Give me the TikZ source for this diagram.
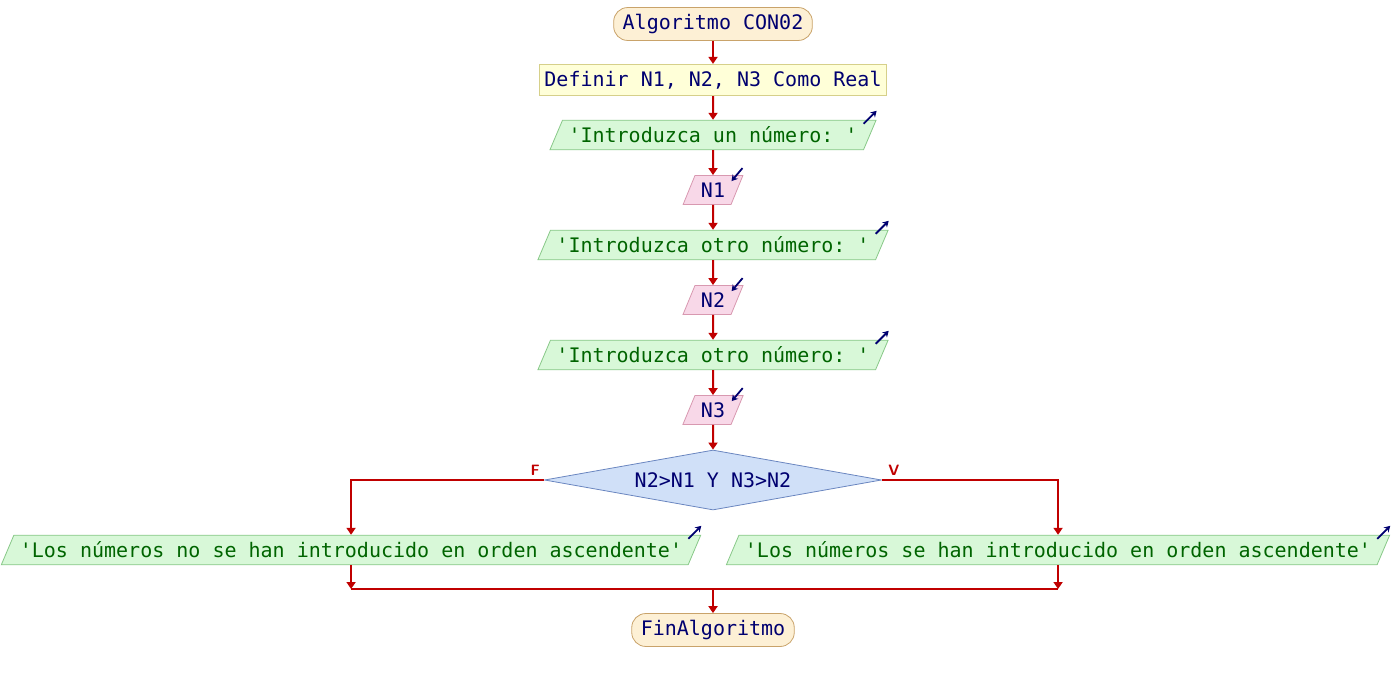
\documentclass[tikz,border=0pt]{standalone}
\usepackage{fontspec}
\setmonofont{DejaVu Sans Mono}
\usetikzlibrary{shapes.geometric,arrows.meta,positioning}

\definecolor{flowline}{HTML}{C00000}
\definecolor{navytext}{HTML}{000070}
\definecolor{greentext}{HTML}{006400}
\definecolor{startfill}{HTML}{FDF0D5}
\definecolor{startedge}{HTML}{C9A36A}
\definecolor{deffill}{HTML}{FFFFD8}
\definecolor{defedge}{HTML}{D6D08A}
\definecolor{outfill}{HTML}{D8F8D8}
\definecolor{outedge}{HTML}{88C888}
\definecolor{infill}{HTML}{F8D8E8}
\definecolor{inedge}{HTML}{D898B0}
\definecolor{ifffill}{HTML}{D0E0F8}
\definecolor{ifedge}{HTML}{6A86C0}

\begin{document}
\begin{tikzpicture}[x = 0.5pt, y = -0.5pt,
    font = \ttfamily\fontsize{10pt}{12pt}\selectfont,
    terminal/.style = {draw = startedge, fill = startfill, text = navytext, rounded corners = 7pt,
        minimum height = 14.5pt, inner xsep = 4.5pt},
    define/.style = {draw = defedge, fill = deffill, text = navytext, minimum height = 15pt, inner xsep = 2.5pt},
    io/.style = {trapezium, trapezium left angle = 67, trapezium right angle = 113, trapezium stretches body,
        minimum height = 14.5pt, inner xsep = 3pt},
    output/.style = {io, draw = outedge, fill = outfill, text = greentext},
    input/.style = {io, draw = inedge, fill = infill, text = navytext},
    decision/.style = {diamond, draw = ifedge, fill = ifffill, text = navytext, aspect = 5.6, inner sep = 0pt,
        minimum width = 168.5pt, minimum height = 30pt},
    flow/.style = {draw = flowline, line width = 1pt, -{Triangle[width = 4.5pt, length = 3.5pt]}},
    branch/.style = {text = flowline, inner sep = 0pt, font = \sffamily\bfseries\fontsize{7.5pt}{8pt}\selectfont},
    outmark/.style = {draw = navytext, line width = 0.9pt, -{Stealth[width = 3.5pt, length = 3pt]}},
]
    \useasboundingbox (0,0) rectangle (1392,680);

    % nodes
    \node[terminal] (start) at (713,24) {Algoritmo CON02};
    \node[define] (def) at (713,80) {Definir N1, N2, N3 Como Real};
    \node[output] (o1) at (713,135) {'Introduzca un número: '};
    \node[input] (n1) at (713,190) {N1};
    \node[output] (o2) at (713,245) {'Introduzca otro número: '};
    \node[input] (n2) at (713,300) {N2};
    \node[output] (o3) at (713,355) {'Introduzca otro número: '};
    \node[input] (n3) at (713,410) {N3};
    \node[decision] (cond) at (713,480) {N2>N1 Y N3>N2};
    \node[output] (lo) at (351,550) {'Los números no se han introducido en orden ascendente'};
    \node[output] (ro) at (1058,550) {'Los números se han introducido en orden ascendente'};
    \coordinate (join) at (713,589);
    \node[terminal] (end) at (713,630) {FinAlgoritmo};

    % connectors
    \draw[flow] (start) -- (def);
    \draw[flow] (def) -- (o1);
    \draw[flow] (o1) -- (n1);
    \draw[flow] (n1) -- (o2);
    \draw[flow] (o2) -- (n2);
    \draw[flow] (n2) -- (o3);
    \draw[flow] (o3) -- (n3);
    \draw[flow] (n3) -- (cond);
    \draw[flow] (cond.west) -| (lo.north);
    \draw[flow] (cond.east) -| (ro.north);
    \draw[flow] (lo.south) -- (lo.south |- join);
    \draw[flow] (ro.south) -- (ro.south |- join);
    \draw[draw = flowline, line width = 1pt] (lo.south |- join) -- (ro.south |- join);
    \draw[flow] (join) -- (end);
    \node[branch, above left = 2pt and 2pt of cond.west] (f) {F};
    \node[branch, above right = 2pt and 3pt of cond.east] (v) {V};

    % in/out marks
    \foreach \o in {o1, o2, o3, lo, ro}
        \draw[outmark] ([xshift = -6.5pt, yshift = -2pt]\o.top right corner) -- ++(6.5pt,6.5pt);
    \foreach \i in {n1, n2, n3}
        \draw[outmark] ([xshift = -0.5pt, yshift = 3.5pt]\i.top right corner) -- ++(-5.5pt,-6.5pt);
\end{tikzpicture}
\end{document}
